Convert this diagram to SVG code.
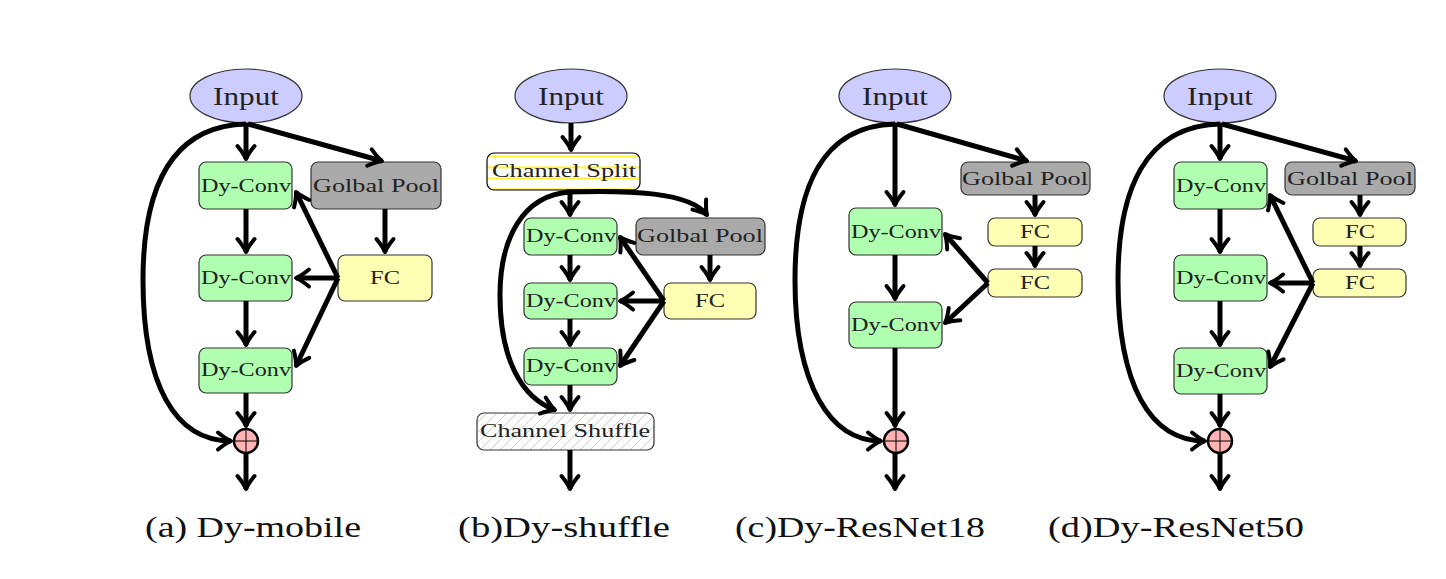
<svg xmlns="http://www.w3.org/2000/svg" width="1446" height="579" viewBox="0 0 1446 579">
<style>
.nd{stroke:#333;stroke-width:1.2}
.in{fill:#ccccff}
.dc{fill:#b0ffb0}
.gp{fill:#aaaaaa}
.fc{fill:#ffffb3}
.t{font-family:"Liberation Serif","DejaVu Serif",serif;fill:#222;text-anchor:middle}
.ts{font-size:18px}
.ti{font-size:26px}
.cap{font-family:"Liberation Serif","DejaVu Serif",serif;fill:#111;font-size:30px}
.edge path{fill:none;stroke:#000;stroke-width:5;marker-end:url(#ah)}
.plus circle{fill:#ffb3b3;stroke:#000;stroke-width:2.5}
.plus path{stroke:#000;stroke-width:1}
</style>
<defs>
<marker id="ah" markerUnits="userSpaceOnUse" markerWidth="40" markerHeight="40" viewBox="-20 -20 40 40" refX="0" refY="0" orient="auto" overflow="visible">
<path d="M-13,-8.5 Q-5,-2 0,0 Q-5,2 -13,8.5" fill="none" stroke="#000" stroke-width="4" stroke-linecap="round" stroke-linejoin="round"/>
</marker>
<pattern id="hlines" patternUnits="userSpaceOnUse" x="0" y="155.5" width="20" height="11">
<rect width="20" height="11" fill="#fff"/>
<rect y="0" width="20" height="1.6" fill="#ffee00"/>
</pattern>
<pattern id="hatch" patternUnits="userSpaceOnUse" width="10" height="10">
<rect width="10" height="10" fill="#fff"/>
<path d="M-1,11 L11,-1 M-6,6 L6,-6 M4,16 L16,4" stroke="#c8c8ff" stroke-width="1"/>
</pattern>
</defs>
<rect width="1446" height="579" fill="#fff"/>

<!-- Panel a -->
<g id="a-input"><ellipse class="nd in" cx="246" cy="96" rx="56" ry="27"/><text class="t ti" x="246" y="105" textLength="66" lengthAdjust="spacingAndGlyphs">Input</text></g>
<g id="a-dc1"><rect class="nd dc" x="199" y="162" width="93" height="47" rx="7"/><text class="t ts" x="246" y="192" textLength="90" lengthAdjust="spacingAndGlyphs">Dy-Conv</text></g>
<g id="a-dc2"><rect class="nd dc" x="199" y="255" width="93" height="46" rx="7"/><text class="t ts" x="246" y="284" textLength="90" lengthAdjust="spacingAndGlyphs">Dy-Conv</text></g>
<g id="a-dc3"><rect class="nd dc" x="199" y="348" width="93" height="45" rx="7"/><text class="t ts" x="246" y="376" textLength="90" lengthAdjust="spacingAndGlyphs">Dy-Conv</text></g>
<g id="a-gp"><rect class="nd gp" x="311" y="162" width="130" height="47" rx="7"/><text class="t ts" x="376" y="192" textLength="126" lengthAdjust="spacingAndGlyphs">Golbal Pool</text></g>
<g id="a-fc"><rect class="nd fc" x="338" y="255" width="94" height="46" rx="7"/><text class="t ts" x="385" y="284" textLength="30" lengthAdjust="spacingAndGlyphs">FC</text></g>
<g id="a-plus" class="plus"><circle cx="246" cy="441" r="12"/><path d="M234,441 H258 M246,429 V453"/></g>

<!-- Panel b -->
<g id="b-input"><ellipse class="nd in" cx="571" cy="96" rx="56" ry="27"/><text class="t ti" x="571" y="105" textLength="66" lengthAdjust="spacingAndGlyphs">Input</text></g>
<g id="b-split"><rect x="487" y="153" width="153" height="37" rx="7" fill="url(#hlines)" stroke="#000" stroke-width="1.2"/><text class="t ts" x="564" y="177" textLength="144" lengthAdjust="spacingAndGlyphs">Channel Split</text></g>
<g id="b-dc1"><rect class="nd dc" x="524" y="218" width="93" height="37" rx="7"/><text class="t ts" x="571" y="242" textLength="90" lengthAdjust="spacingAndGlyphs">Dy-Conv</text></g>
<g id="b-dc2"><rect class="nd dc" x="524" y="283" width="93" height="36" rx="7"/><text class="t ts" x="571" y="307" textLength="90" lengthAdjust="spacingAndGlyphs">Dy-Conv</text></g>
<g id="b-dc3"><rect class="nd dc" x="524" y="348" width="93" height="37" rx="7"/><text class="t ts" x="571" y="372" textLength="90" lengthAdjust="spacingAndGlyphs">Dy-Conv</text></g>
<g id="b-gp"><rect class="nd gp" x="636" y="218" width="129" height="37" rx="7"/><text class="t ts" x="700" y="242" textLength="126" lengthAdjust="spacingAndGlyphs">Golbal Pool</text></g>
<g id="b-fc"><rect class="nd fc" x="664" y="283" width="92" height="36" rx="7"/><text class="t ts" x="710" y="307" textLength="30" lengthAdjust="spacingAndGlyphs">FC</text></g>
<g id="b-shuffle"><rect x="477" y="413" width="177" height="37" rx="7" fill="url(#hatch)" stroke="#333" stroke-width="1.2"/><text class="t ts" x="565" y="437" textLength="170" lengthAdjust="spacingAndGlyphs">Channel Shuffle</text></g>

<!-- Panel c -->
<g id="c-input"><ellipse class="nd in" cx="895" cy="96" rx="56" ry="27"/><text class="t ti" x="895" y="105" textLength="66" lengthAdjust="spacingAndGlyphs">Input</text></g>
<g id="c-dc1"><rect class="nd dc" x="849" y="208" width="93" height="47" rx="7"/><text class="t ts" x="896" y="238" textLength="90" lengthAdjust="spacingAndGlyphs">Dy-Conv</text></g>
<g id="c-dc2"><rect class="nd dc" x="849" y="302" width="93" height="46" rx="7"/><text class="t ts" x="896" y="331" textLength="90" lengthAdjust="spacingAndGlyphs">Dy-Conv</text></g>
<g id="c-gp"><rect class="nd gp" x="961" y="162" width="129" height="33" rx="7"/><text class="t ts" x="1025" y="185" textLength="126" lengthAdjust="spacingAndGlyphs">Golbal Pool</text></g>
<g id="c-fc1"><rect class="nd fc" x="988" y="218" width="94" height="28" rx="7"/><text class="t ts" x="1035" y="238" textLength="30" lengthAdjust="spacingAndGlyphs">FC</text></g>
<g id="c-fc2"><rect class="nd fc" x="988" y="269" width="94" height="28" rx="7"/><text class="t ts" x="1035" y="289" textLength="30" lengthAdjust="spacingAndGlyphs">FC</text></g>
<g id="c-plus" class="plus"><circle cx="896" cy="441" r="12"/><path d="M884,441 H908 M896,429 V453"/></g>

<!-- Panel d -->
<g id="d-input"><ellipse class="nd in" cx="1220" cy="96" rx="56" ry="27"/><text class="t ti" x="1220" y="105" textLength="66" lengthAdjust="spacingAndGlyphs">Input</text></g>
<g id="d-dc1"><rect class="nd dc" x="1174" y="162" width="93" height="47" rx="7"/><text class="t ts" x="1221" y="192" textLength="90" lengthAdjust="spacingAndGlyphs">Dy-Conv</text></g>
<g id="d-dc2"><rect class="nd dc" x="1174" y="255" width="93" height="46" rx="7"/><text class="t ts" x="1221" y="284" textLength="90" lengthAdjust="spacingAndGlyphs">Dy-Conv</text></g>
<g id="d-dc3"><rect class="nd dc" x="1174" y="348" width="93" height="46" rx="7"/><text class="t ts" x="1221" y="377" textLength="90" lengthAdjust="spacingAndGlyphs">Dy-Conv</text></g>
<g id="d-gp"><rect class="nd gp" x="1285" y="162" width="130" height="33" rx="7"/><text class="t ts" x="1350" y="185" textLength="126" lengthAdjust="spacingAndGlyphs">Golbal Pool</text></g>
<g id="d-fc1"><rect class="nd fc" x="1313" y="218" width="93" height="28" rx="7"/><text class="t ts" x="1360" y="238" textLength="30" lengthAdjust="spacingAndGlyphs">FC</text></g>
<g id="d-fc2"><rect class="nd fc" x="1313" y="269" width="93" height="28" rx="7"/><text class="t ts" x="1360" y="289" textLength="30" lengthAdjust="spacingAndGlyphs">FC</text></g>
<g id="d-plus" class="plus"><circle cx="1220" cy="441" r="12"/><path d="M1208,441 H1232 M1220,429 V453"/></g>

<g id="connectors" class="edge">
<!-- a -->
<path d="M246,123 V159"/>
<path d="M248,124 L382,161"/>
<path d="M246,209 V252"/>
<path d="M246,301 V345"/>
<path d="M246,393 V426"/>
<path d="M246,453 V489"/>
<path d="M385,209 V252"/>
<path d="M338,278 L296,192"/>
<path d="M338,278 H296"/>
<path d="M338,278 L296,366"/>
<path d="M246,124 C170,126 143,190 143,280 C143,385 175,441 231,441"/>
<!-- b -->
<path d="M571,123 V150"/>
<path d="M570,190 V215"/>
<path d="M566,192 C630,190 690,192 707,215"/>
<path d="M570,192 C522,195 500,240 500,295 C500,360 522,398 555,410"/>
<path d="M570,255 V280"/>
<path d="M570,319 V345"/>
<path d="M570,385 V410"/>
<path d="M570,450 V489"/>
<path d="M710,255 V280"/>
<path d="M664,301 L620,237"/>
<path d="M664,301 H620"/>
<path d="M664,301 L620,366"/>
<!-- c -->
<path d="M895,123 V205"/>
<path d="M897,124 L1027,161"/>
<path d="M1035,195 V215"/>
<path d="M1035,246 V266"/>
<path d="M895,255 V299"/>
<path d="M895,348 V426"/>
<path d="M895,453 V489"/>
<path d="M988,283 L945,234"/>
<path d="M988,283 L945,323"/>
<path d="M895,124 C820,126 795,190 795,280 C795,385 830,441 881,441"/>
<!-- d -->
<path d="M1220,123 V159"/>
<path d="M1222,124 L1356,161"/>
<path d="M1360,195 V215"/>
<path d="M1360,246 V266"/>
<path d="M1220,209 V252"/>
<path d="M1220,301 V345"/>
<path d="M1220,394 V426"/>
<path d="M1220,453 V489"/>
<path d="M1313,283 L1270,195"/>
<path d="M1313,283 H1270"/>
<path d="M1313,283 L1270,367"/>
<path d="M1220,124 C1145,126 1118,190 1118,280 C1118,385 1150,441 1205,441"/>
</g>

<g id="captions">
<text class="cap" x="145" y="537" textLength="216" lengthAdjust="spacingAndGlyphs">(a) Dy-mobile</text>
<text class="cap" x="458" y="537" textLength="212" lengthAdjust="spacingAndGlyphs">(b)Dy-shuffle</text>
<text class="cap" x="735" y="537" textLength="250" lengthAdjust="spacingAndGlyphs">(c)Dy-ResNet18</text>
<text class="cap" x="1048" y="537" textLength="256" lengthAdjust="spacingAndGlyphs">(d)Dy-ResNet50</text>
</g>
</svg>
